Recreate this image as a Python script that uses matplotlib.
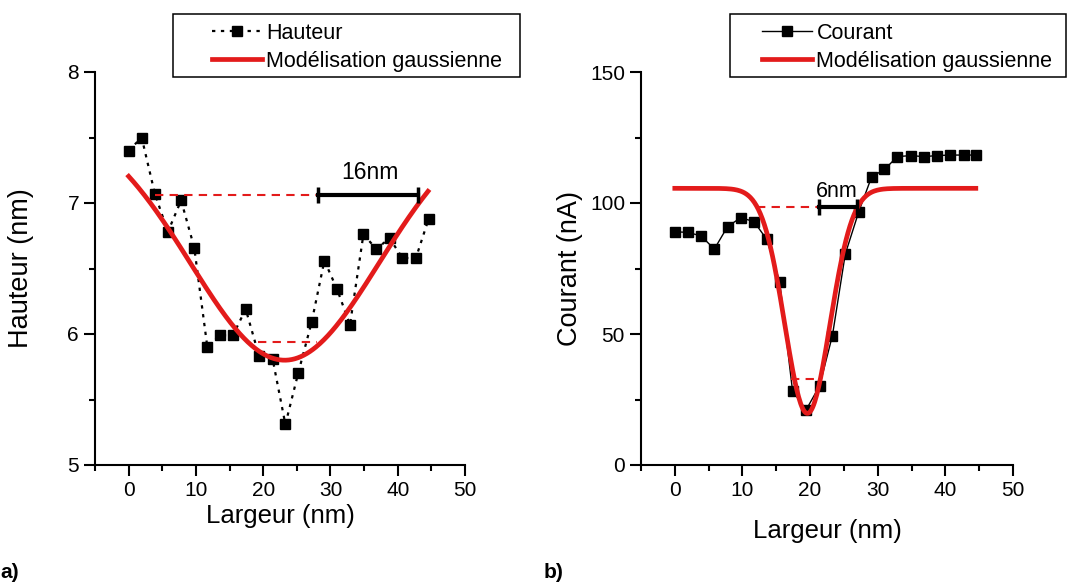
import numpy as np
import matplotlib
matplotlib.use("Agg")
import matplotlib.pyplot as plt
from matplotlib.ticker import MultipleLocator
from matplotlib.patches import Rectangle

plt.rcParams['font.family'] = ['Liberation Sans', 'DejaVu Sans']

# values
largeur = [0, 1.94, 3.9, 5.84, 7.8, 9.75, 11.7, 13.6, 15.5, 17.4, 19.4, 21.4,
           23.3, 25.2, 27.2, 29.1, 31.0, 32.9, 34.9, 36.8, 38.8, 40.7, 42.7, 44.6]
hauteur = [7.40, 7.50, 7.07, 6.78, 7.02, 6.66, 5.90, 5.99, 5.99, 6.19, 5.83, 5.81,
           5.31, 5.70, 6.09, 6.56, 6.34, 6.07, 6.76, 6.65, 6.73, 6.58, 6.58, 6.88]
courant = [89.0, 88.8, 87.4, 82.4, 91.0, 94.4, 92.9, 86.1, 70.0, 28.4, 21.0, 30.2,
           49.4, 80.5, 96.7, 110.0, 112.8, 117.7, 118.1, 117.7, 118.1, 118.3, 118.3, 118.3]

# gaussian model parameters (offset, depth, centre, sigma)
gauss_a = (7.68, 1.88, 23.2, 14.0)
gauss_b = (105.6, 85.9, 19.6, 3.33)

# annotation levels
fwhm_a = dict(y=7.06, x0=3.9, x1=28.2, x2=43.0, ymin=5.94, xm0=19.3, xm1=28.0)
fwhm_b = dict(y=98.6, x0=12.1, x1=21.3, x2=27.0, ymin=32.7, xm0=17.2, xm1=21.2)

RED = '#e31b1b'
W, H = 1074, 582


def gauss(x, p):
    y0, a, xc, s = p
    return y0 - a * np.exp(-(x - xc) ** 2 / (2 * s ** 2))


def style(ax):
    for s in ['top', 'right']:
        ax.spines[s].set_visible(False)
    for s in ['left', 'bottom']:
        ax.spines[s].set_linewidth(1.5)
    ax.tick_params(which='major', direction='out', length=8, width=1.5, labelsize=15)
    ax.tick_params(which='minor', direction='out', length=4, width=1.5)
    ax.xaxis.set_major_locator(MultipleLocator(10))
    ax.xaxis.set_minor_locator(MultipleLocator(5))
    ax.set_xlim(-5, 50)


def legend_box(fig, handles, x_handle, x0, x1):
    fig.legend(handles=handles, loc='upper left',
               bbox_to_anchor=(x_handle / W, 1 - 23 / H),
               fontsize=15.5, frameon=False, handlelength=2.33,
               handletextpad=0.2, labelspacing=0.32, borderpad=0, borderaxespad=0)
    fig.patches.append(Rectangle((x0 / W, 1 - 77 / H), (x1 - x0) / W, 63 / H,
                                 transform=fig.transFigure, fill=False,
                                 edgecolor='black', lw=1.1))


fig = plt.figure(figsize=(W / 100, H / 100), dpi=100)
ax1 = fig.add_axes([95 / W, 1 - 465 / H, 370 / W, 393 / H])
ax2 = fig.add_axes([641 / W, 1 - 465 / H, 372 / W, 393 / H])

xf = np.linspace(0, 44.5, 300)

# ---- panel a
style(ax1)
ax1.set_ylim(5, 8)
ax1.yaxis.set_major_locator(MultipleLocator(1))
ax1.yaxis.set_minor_locator(MultipleLocator(0.5))
l1, = ax1.plot(largeur, hauteur, color='black', linestyle=(0, (1.5, 2.5)), lw=1.6,
               marker='s', markersize=6.5, label='Hauteur')
l2, = ax1.plot(xf, gauss(xf, gauss_a), color=RED, lw=3.4, label='Modélisation gaussienne')
ax1.plot([fwhm_a['x0'], fwhm_a['x1']], [fwhm_a['y']] * 2, color=RED, lw=1.5, dashes=(4, 3))
ax1.plot([fwhm_a['xm0'], fwhm_a['xm1']], [fwhm_a['ymin']] * 2, color=RED, lw=1.5, dashes=(4, 3))
ax1.plot([fwhm_a['x1'], fwhm_a['x2']], [fwhm_a['y']] * 2, color='black', lw=3,
         marker='|', markersize=12, mew=2.5)
ax1.text(35.9, 7.23, '16nm', fontsize=16.5, ha='center', va='center')
ax1.set_xlabel('Largeur (nm)', fontsize=18.5)
ax1.set_ylabel('Hauteur (nm)', fontsize=19.5)
ax1.xaxis.set_label_coords(0.5, -0.10)
ax1.yaxis.set_label_coords(-0.165, 0.5)
legend_box(fig, [l1, l2], 212, 173, 520)

# ---- panel b
style(ax2)
ax2.set_ylim(0, 150)
ax2.yaxis.set_major_locator(MultipleLocator(50))
ax2.yaxis.set_minor_locator(MultipleLocator(25))
m1, = ax2.plot(largeur, courant, color='black', lw=1, marker='s', markersize=6.5,
               label='Courant')
m2, = ax2.plot(xf, gauss(xf, gauss_b), color=RED, lw=3.4, label='Modélisation gaussienne')
ax2.plot([fwhm_b['x0'], fwhm_b['x1']], [fwhm_b['y']] * 2, color=RED, lw=1.5, dashes=(4, 3))
ax2.plot([fwhm_b['xm0'], fwhm_b['xm1']], [fwhm_b['ymin']] * 2, color=RED, lw=1.5, dashes=(4, 3))
ax2.plot([fwhm_b['x1'], fwhm_b['x2']], [fwhm_b['y']] * 2, color='black', lw=3,
         marker='|', markersize=12, mew=2.5)
ax2.text(24.0, 104.3, '6nm', fontsize=15.5, ha='center', va='center')
ax2.set_xlabel('Largeur (nm)', fontsize=18.5)
ax2.set_ylabel('Courant (nA)', fontsize=19.5)
ax2.xaxis.set_label_coords(0.5, -0.137)
ax2.yaxis.set_label_coords(-0.155, 0.5)
legend_box(fig, [m1, m2], 762, 730, 1066)

fig.text(0, 1 - 573 / H, 'a)', fontsize=15, fontweight='bold', ha='left', va='center')
fig.text(544 / W, 1 - 573 / H, 'b)', fontsize=15, fontweight='bold', ha='left', va='center')

fig.savefig('out.png', dpi=100)
